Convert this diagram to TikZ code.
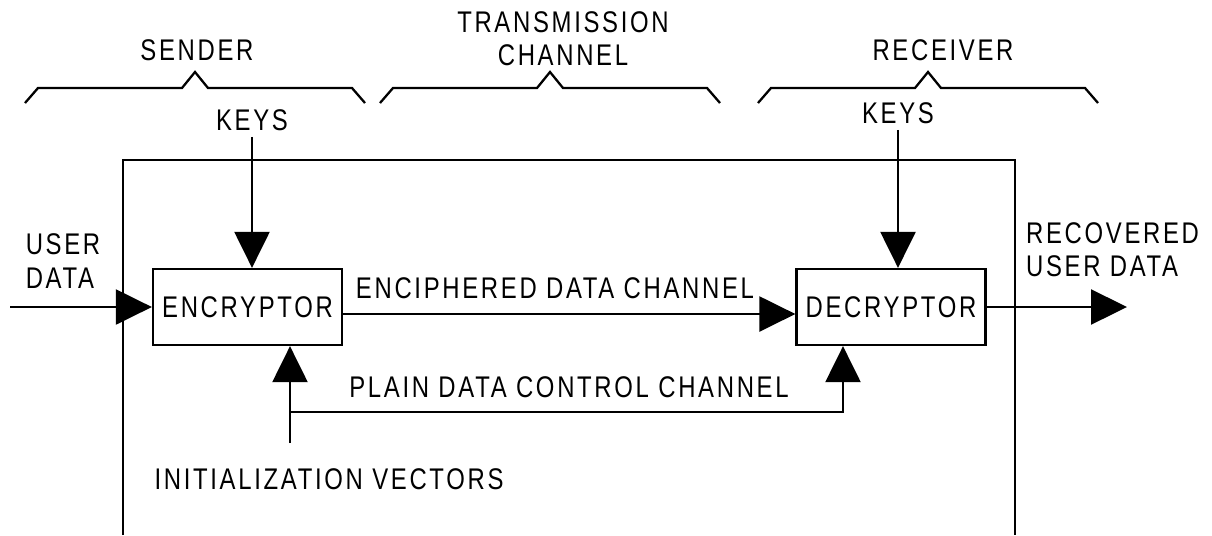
\documentclass[tikz,border=0pt]{standalone}
\usepackage{fontspec}
\setmainfont{Liberation Sans}[FakeStretch=0.8, LetterSpace=9]
\usetikzlibrary{arrows.meta}

\tikzset{
    lbl/.style={inner sep=0pt, align=center},
    unit/.style={draw, line width=1.3pt, minimum width=3.78cm, minimum height=1.52cm, inner sep=0pt},
    arr/.style={line width=1.3pt, -{Triangle[length=0.72cm, width=0.7cm]}}
}

\begin{document}
\begin{tikzpicture}[x=0.02cm, y=-0.02cm, font=\fontsize{17}{19}\selectfont, line width=1.3pt]
        \useasboundingbox (0,0) rectangle (1212,535);

        % braces over the three parts
        \foreach \l/\r in {25/365, 380/720, 758/1098}
            \draw (\l,103) -- ++(13,-15) -- ({(\l+\r)/2-13},88) -- ++(13,-16) -- ++(13,16) -- ({\r-13},88) -- (\r,103);
        \node[lbl] (sender) at (197,50) {SENDER};
        \node[lbl] (channel) at (563,39) {TRANSMISSION\\CHANNEL};
        \node[lbl] (receiver) at (943,50) {RECEIVER};

        % open frame
        \draw (123,535) -- (123,160) -- (1015,160) -- (1015,535);

        \node[unit] (enc) at (247.5,307) {ENCRYPTOR};
        \node[unit] (dec) at (891,307) {DECRYPTOR};

        \node[lbl] (keysS) at (252,120) {KEYS};
        \node[lbl] (keysR) at (898,113) {KEYS};
        \draw[arr] ([yshift=-3pt]keysS.south) -- (keysS.south |- enc.north);
        \draw[arr] ([yshift=-3pt]keysR.south) -- (keysR.south |- dec.north);

        \node[lbl, align=left] (userdata) at (63,261) {USER\\DATA};
        \coordinate (in) at (10,307);
        \draw[arr] (in) -- (enc.west);

        \node[lbl, align=left, anchor=west] (recovered) at (1025,250) {RECOVERED\\USER DATA};
        \coordinate (out) at (1127,307);
        \draw[arr] (dec.east) -- (out);

        \draw[arr] (enc.east |- 0,314) -- (dec.west |- 0,314);
        \node[lbl] (enciphered) at (555,288) {ENCIPHERED DATA CHANNEL};

        \coordinate (iv) at (290,443);
        \coordinate (split) at (290,412);
        \draw[arr] (iv) -- (iv |- enc.south);
        \draw[arr] (split) -| (dec.south -| 843,0);
        \node[lbl] (plain) at (569,387) {PLAIN DATA CONTROL CHANNEL};
        \node[lbl] (ivlabel) at (329,479) {INITIALIZATION VECTORS};
    \end{tikzpicture}
\end{document}
